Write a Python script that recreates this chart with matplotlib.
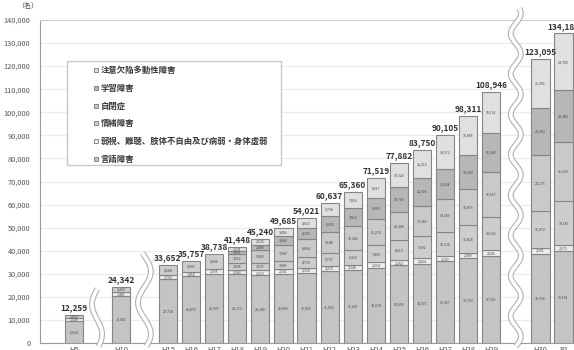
import matplotlib
matplotlib.use('Agg')
import matplotlib.pyplot as plt
import numpy as np
from matplotlib.patches import Rectangle
from matplotlib.lines import Line2D

plt.rcParams['font.family'] = ['Noto Sans CJK JP', 'DejaVu Sans']

years = ['H5', 'H10', 'H15', 'H16', 'H17', 'H18', 'H19', 'H20', 'H21', 'H22',
         'H23', 'H24', 'H25', 'H26', 'H27', 'H28', 'H29', 'H30', 'R1']

# bottom to top
gengo = [9654, 20461, 27718, 28870, 29907, 29713, 29340, 29860, 30390, 31066,
         31607, 32674, 33606, 34375, 35337, 36793, 37561, 38754, 39691]
jakushi = [1146, 1481, 1750, 1854, 1995, 1943, 2113, 2101, 2118, 2233,
           2240, 2254, 2262, 2424, 2199, 2389, 2546, 2501, 2572]
jocho = [1459, 2400, 4184, 5033, 6836, 2898, 3197, 3589, 4710, 5737,
         6332, 7450, 8613, 9392, 10620, 11824, 14592, 16072, 19189]
jiheisho = [0, 0, 0, 0, 0, 3912, 5469, 7047, 8064, 9148,
            10342, 11274, 12308, 13340, 14189, 15876, 19567, 24175, 25635]
ld = [0, 0, 0, 0, 0, 1351, 2485, 3682, 4726, 6655,
      7813, 9350, 10769, 12006, 13188, 14543, 16545, 20293, 22389]
adhd = [0, 0, 0, 0, 0, 1631, 2636, 3406, 4013, 5798,
        7026, 8517, 10324, 12213, 14572, 16886, 18135, 21300, 24709]

labels = ['言語障害', '弱視、難聴、肢体不自由及び病弱・身体虚弱', '情緒障害',
          '自閉症', '学習障害', '注意欠陥多動性障害']
series = [gengo, jakushi, jocho, jiheisho, ld, adhd]
colors = ['#c4c4c4', '#ececec', '#cdcdcd', '#c9c9c9', '#b7b7b7', '#e0e0e0']

# x positions (gaps where the time axis is broken)
pos = np.array([0, 2.03] + [4.07 + i for i in range(15)] + [20.2, 21.2])

fig = plt.figure(figsize=(5.74, 3.5), dpi=100)
ax = fig.add_axes([40/574, 7/350, 534/574, 323/350])

w = 0.79
bottom = np.zeros(len(years))
for vals, col in zip(series, colors):
    vals = np.array(vals, dtype=float)
    m = vals > 0
    ax.bar(pos[m], vals[m], width=w, bottom=bottom[m], color=col,
           edgecolor='#858585', linewidth=0.8, zorder=3)
    for x, b, v in zip(pos[m], bottom[m], vals[m]):
        ax.text(x, b + v/2, f'{int(v):,}', ha='center', va='center',
                fontsize=2.5, color='#444444', zorder=4)
    bottom += vals

totals = bottom
for x, t in zip(pos, totals):
    ax.text(x, t + 1200, f'{int(t):,}', ha='center', va='bottom',
            fontsize=6, fontweight='bold', color='#333333', zorder=4)

# wavy break marks
def wave(xc, y0, y1, amp, period, phase=0.0):
    y = np.linspace(y0, y1, 400)
    x = xc + amp*np.sin(2*np.pi*(y - y0)/period + phase)
    ax.plot(x, y, color='#b0b0b0', lw=4.2, clip_on=False, zorder=5,
            solid_capstyle='butt')
    ax.plot(x, y, color='white', lw=2.6, clip_on=False, zorder=6,
            solid_capstyle='butt')

wave(1.0, -1500, 23500, 0.22, 26000, 0.3)
wave(3.05, -1500, 39000, 0.28, 27000, 0.3)
wave(19.13, -1500, 145000, 0.22, 17500, 0.0)

ax.set_xlim(-1.47, 21.65)
ax.set_ylim(0, 140000)
ax.set_yticks(np.arange(0, 140001, 10000))
ax.set_yticklabels([f'{v:,}' for v in range(0, 140001, 10000)],
                   fontsize=5.3, color='#555555')
ax.set_xticks(pos)
ax.set_xticklabels(years, fontsize=5.5, color='#555555')
ax.tick_params(axis='both', length=0)
ax.tick_params(axis='y', pad=7)
ax.tick_params(axis='x', pad=2)
ax.grid(axis='y', color='#ebebeb', lw=0.8, zorder=0)
ax.set_axisbelow(True)
ax.spines['top'].set_color('#cfcfcf')
ax.spines['right'].set_visible(False)
ax.spines['left'].set_color('#9a9a9a')
ax.spines['bottom'].set_color('#9a9a9a')

ax.text(-0.024, 1.03, '（名）', transform=ax.transAxes, fontsize=5,
        ha='center', va='bottom', color='#444444')

# legend box
ax.add_patch(Rectangle((27/534, 178/323), 214/534, 104/323,
                       transform=ax.transAxes, facecolor='white',
                       edgecolor='#c8c8c8', lw=1.0, zorder=7))
handles = [Line2D([], [], marker='s', ls='none', markersize=3.3,
                  markerfacecolor=c, markeredgecolor='#777777',
                  markeredgewidth=0.6) for c in colors]
leg = ax.legend(handles[::-1], labels[::-1], loc='upper left',
                bbox_to_anchor=(53/534, 277/323), frameon=False,
                fontsize=6, labelspacing=1.05, handlelength=0.6,
                handletextpad=0.3, borderaxespad=0, borderpad=0)
leg.set_zorder(8)
for t in leg.get_texts():
    t.set_color('#3a3a3a')
    t.set_fontweight('bold')

fig.savefig('out.png', dpi=100)
